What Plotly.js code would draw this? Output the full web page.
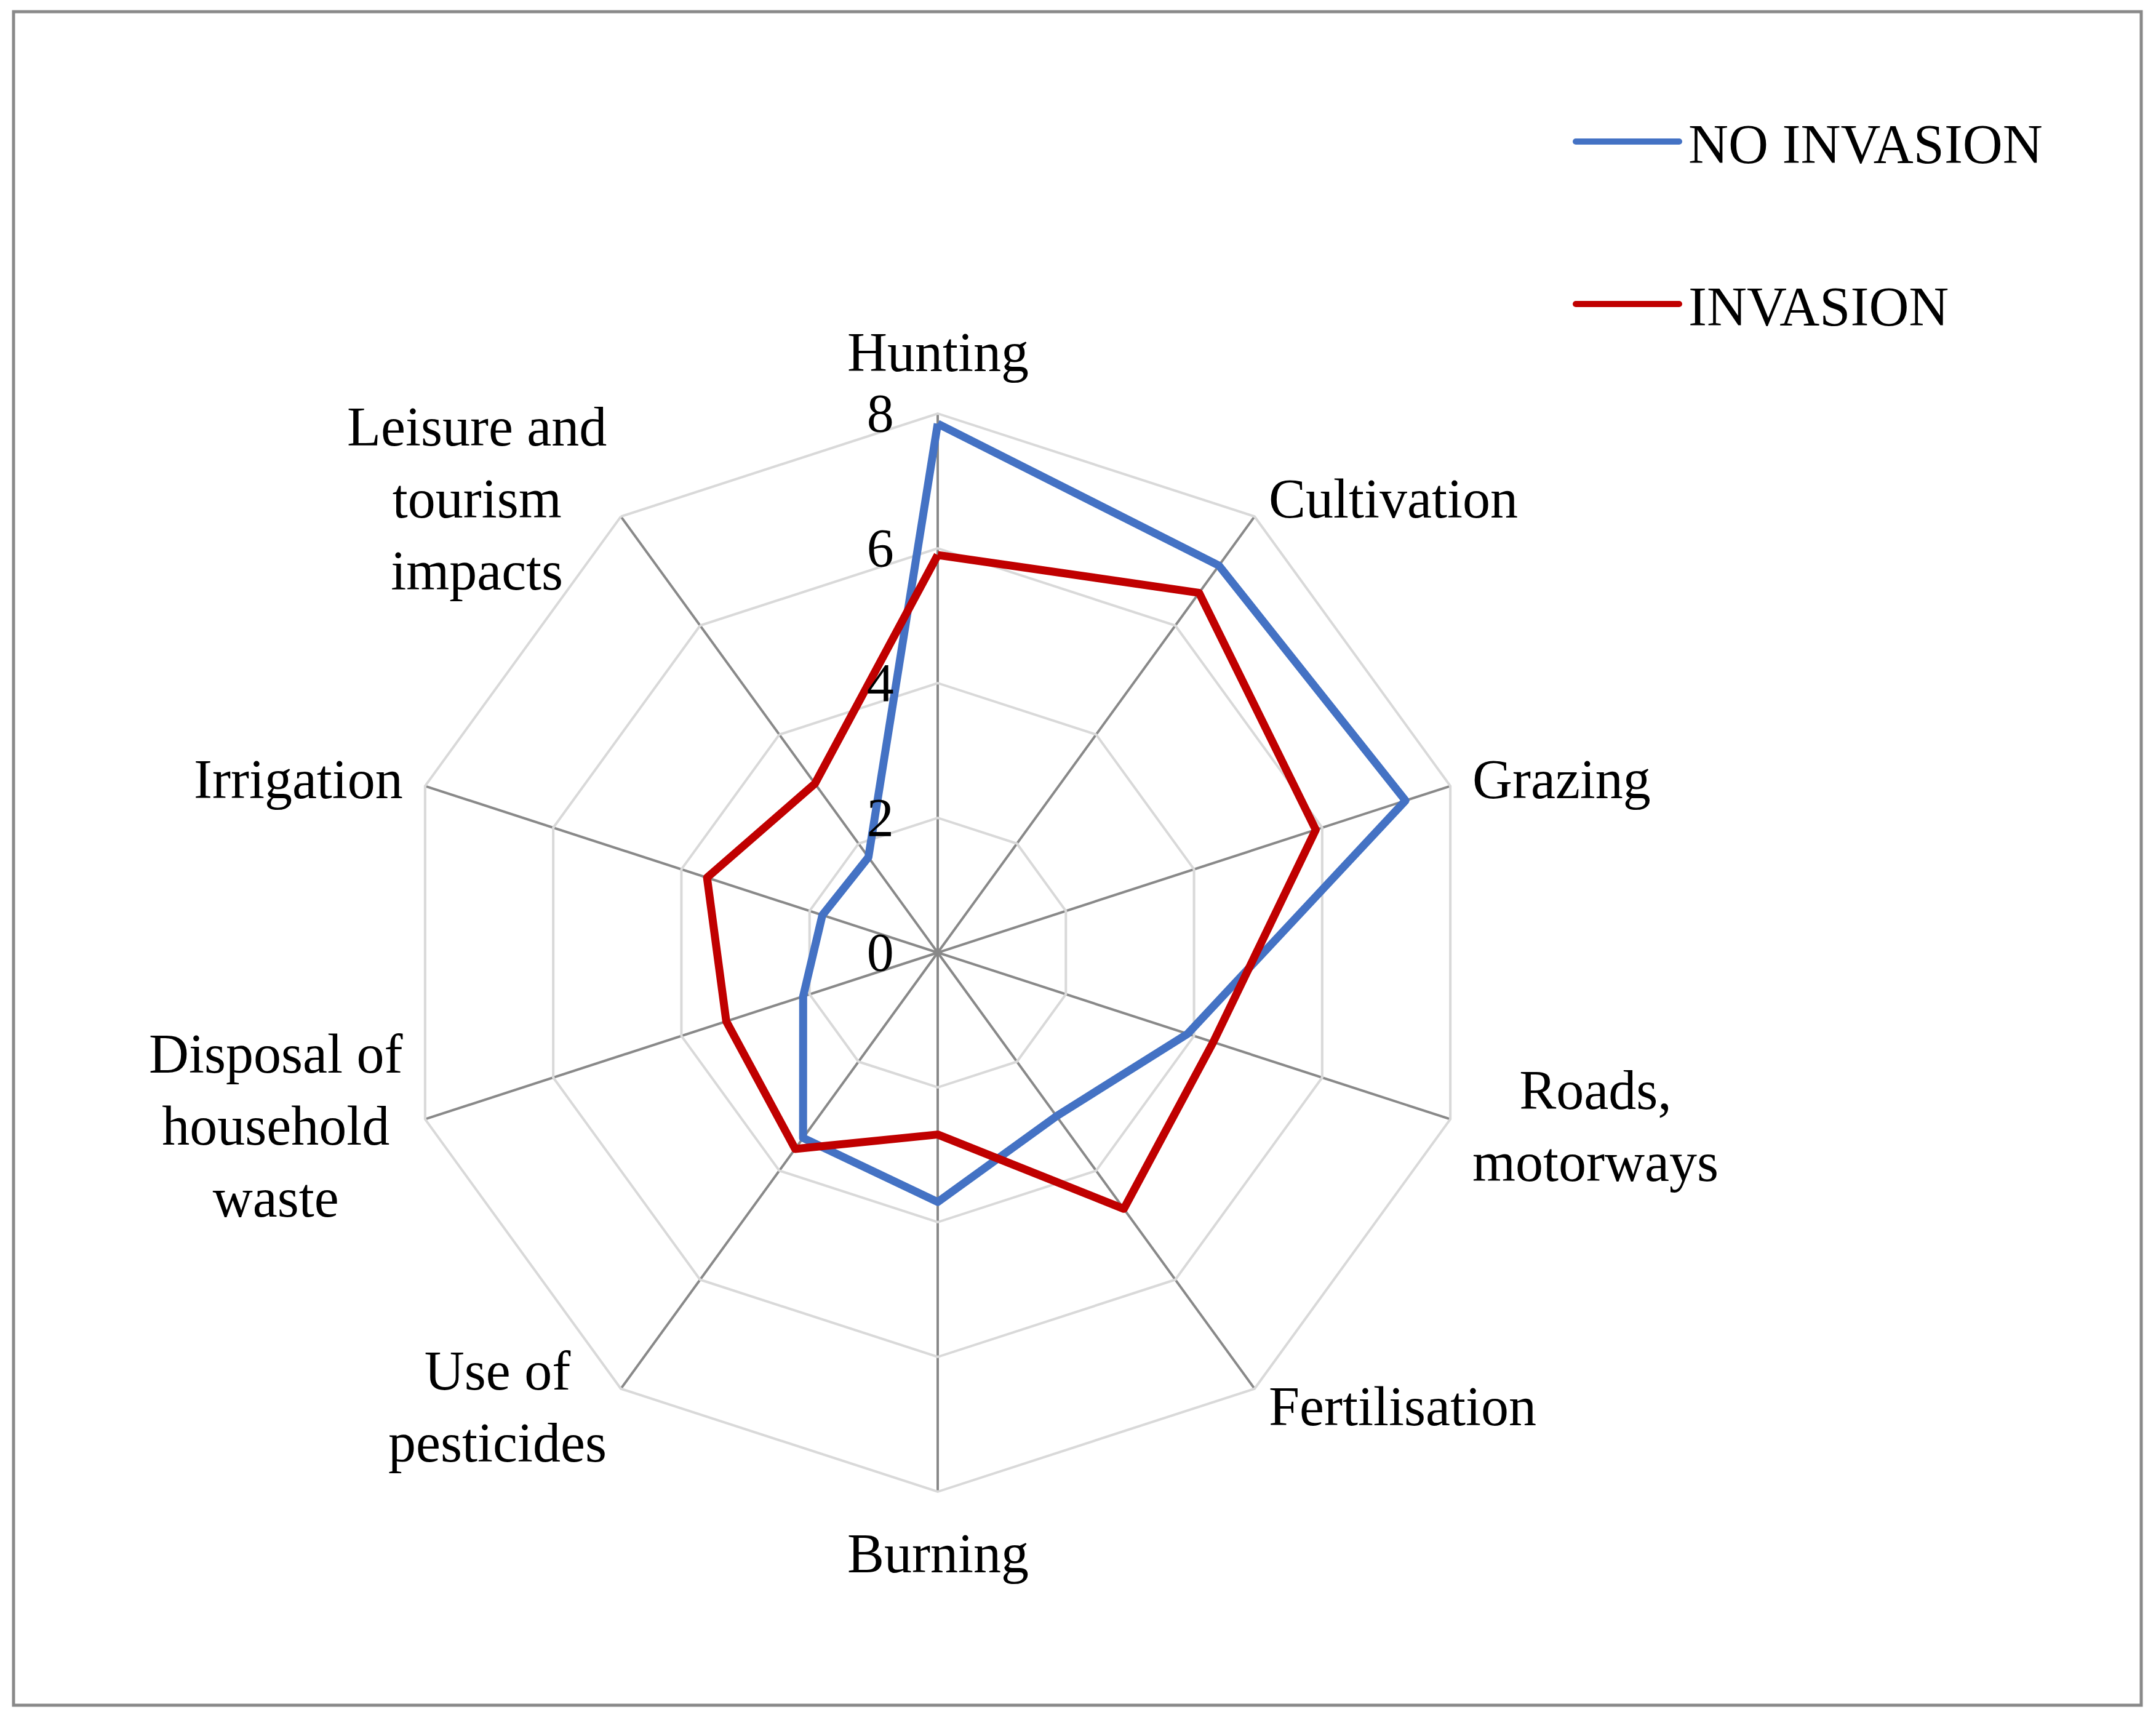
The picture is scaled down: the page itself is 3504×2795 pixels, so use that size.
<!DOCTYPE html>
<html>
<head>
<meta charset="utf-8">
<script src="https://cdn.plot.ly/plotly-3.0.1.min.js"></script>
<style>
  html, body { margin: 0; padding: 0; background: #ffffff; }
  #chart { width: 3504px; height: 2795px; }
  .scatterlayer path.js-line { stroke-linejoin: round; }
</style>
</head>
<body>
<div id="chart"></div>
<script>
// ---- data ----
const categories = ["Hunting", "Cultivation", "Grazing", "Roads, motorways", "Fertilisation",
  "Burning", "Use of pesticides", "Disposal of household waste", "Irrigation",
  "Leisure and tourism impacts"];
const categoryLabels = ["Hunting", "Cultivation", "Grazing", "Roads,<br>motorways",
  "Fertilisation", "Burning", "Use of<br>pesticides", "Disposal of<br>household<br>waste",
  "Irrigation", "Leisure and<br>tourism<br>impacts"];
const noInvasion = [7.85, 7.1, 7.3, 3.9, 3.0, 3.7, 3.4, 2.1, 1.8, 1.75];
const invasion   = [5.9, 6.6, 5.9, 4.3, 4.7, 2.7, 3.6, 3.3, 3.6, 3.1];
const seriesNames = ["NO INVASION", "INVASION"];
const radialTicks = [0, 2, 4, 6, 8];

function closed(arr) { return arr.concat([arr[0]]); }

const FONT = "Liberation Serif, Times New Roman, serif";

const traces = [
  {
    type: "scatterpolar", mode: "lines", name: seriesNames[0], legendgroup: "a",
    r: closed(noInvasion), theta: closed(categories),
    line: { color: "#4472C4", width: 13 }, hoverinfo: "skip"
  },
  {
    type: "scatterpolar", mode: "lines", name: seriesNames[1], legendgroup: "b",
    r: closed(invasion), theta: closed(categories),
    line: { color: "#C00000", width: 13 }, hoverinfo: "skip"
  }
];

const W = 3504, H = 2795;
const cx = 1524, cy = 1548, R = 876;

// category labels placed around the outer ring, like the spreadsheet chart
const annotations = categories.map(function (c, i) {
  const a = (90 - 360 * i / categories.length) * Math.PI / 180;
  const ca = Math.cos(a), sa = Math.sin(a);
  const vertical = Math.abs(ca) < 0.01;
  const pad = vertical ? 100 : 36;
  const px = cx + (R + pad) * ca;
  const py = cy - (R + pad) * sa;
  return {
    xref: "paper", yref: "paper",
    x: px / W, y: 1 - py / H,
    xanchor: vertical ? "center" : (ca > 0 ? "left" : "right"),
    yanchor: "middle",
    align: "center",
    showarrow: false,
    text: categoryLabels[i],
    font: { family: FONT, size: 90, color: "#000000" }
  };
});

const layout = {
  width: W, height: H,
  margin: { l: 0, r: 0, t: 0, b: 0, pad: 0 },
  paper_bgcolor: "#ffffff",
  font: { family: FONT, size: 90, color: "#000000" },
  showlegend: true,
  legend: {
    x: 2556 / W, xanchor: "left",
    y: 1 - 165 / H, yanchor: "top",
    bgcolor: "rgba(0,0,0,0)",
    font: { family: FONT, size: 90, color: "#000000" },
    itemwidth: 178,
    tracegroupgap: 144,
    traceorder: "grouped"
  },
  polar: {
    domain: { x: [(cx - R) / W, (cx + R) / W], y: [(H - cy - R) / H, (H - cy + R) / H] },
    bgcolor: "rgba(0,0,0,0)",
    gridshape: "linear",
    angularaxis: {
      type: "category",
      categoryarray: categories,
      rotation: 90, direction: "clockwise",
      showticklabels: false, ticks: "",
      showline: true, linecolor: "#D9D9D9", linewidth: 4,
      showgrid: true, gridcolor: "#898989", gridwidth: 4
    },
    radialaxis: {
      range: [0, 8], angle: 90, side: "counterclockwise",
      tickmode: "array", tickvals: radialTicks,
      showline: false,
      showgrid: true, gridcolor: "#D9D9D9", gridwidth: 4,
      ticks: "outside", ticklen: 40, tickcolor: "rgba(0,0,0,0)",
      tickangle: 90,
      tickfont: { family: FONT, size: 88, color: "#000000" }
    }
  },
  annotations: annotations,
  shapes: [
    { type: "rect", xref: "paper", yref: "paper",
      x0: 22 / W, x1: 3480 / W, y0: 1 - 2771 / H, y1: 1 - 19 / H,
      line: { color: "#898989", width: 5 }, fillcolor: "rgba(0,0,0,0)", layer: "below" }
  ]
};

Plotly.newPlot("chart", traces, layout, { staticPlot: true, displayModeBar: false }).then(function (gd) {
  gd.querySelectorAll(".legend .legendlines path").forEach(function (p) {
    p.setAttribute("d", "M5,0h168");
    p.style.strokeLinecap = "round";
  });
});
</script>
</body>
</html>
